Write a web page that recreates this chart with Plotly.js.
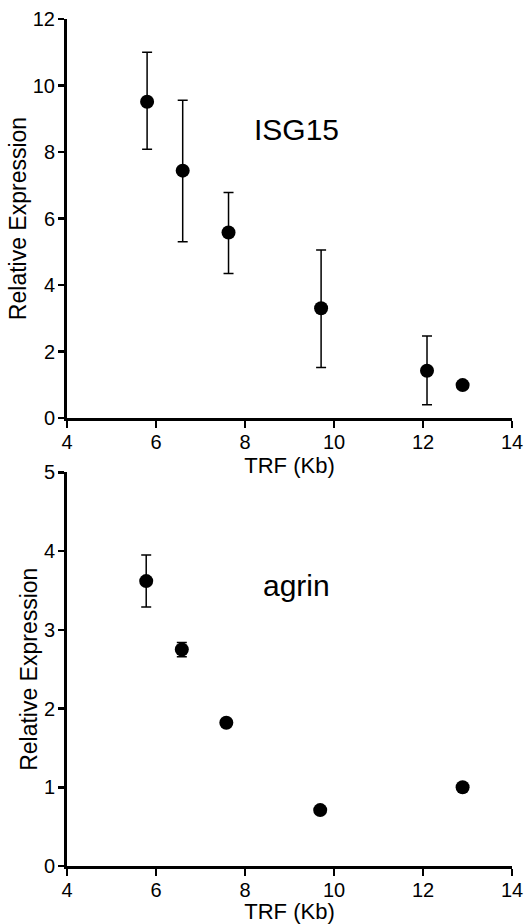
<!DOCTYPE html>
<html>
<head>
<meta charset="utf-8">
<script src="https://cdn.plot.ly/plotly-3.0.1.min.js"></script>
<style>html,body{margin:0;padding:0;background:#fff;}#chart{width:524px;height:924px;}</style>
</head>
<body>
<div id="chart"></div>
<script>
// ISG15 panel
const isgTRF = [5.8, 6.6, 7.63, 9.71, 12.09, 12.89];
const isgExpr = [9.51, 7.44, 5.58, 3.30, 1.42, 0.99];
const isgErrPlus = [1.49, 2.12, 1.20, 1.75, 1.05, 0];
const isgErrMinus = [1.43, 2.14, 1.23, 1.78, 1.02, 0];
// agrin panel
const agrTRF = [5.78, 6.58, 7.58, 9.69, 12.89];
const agrExpr = [3.62, 2.75, 1.82, 0.71, 1.00];
const agrErrPlus = [0.33, 0.09, 0.04, 0, 0];
const agrErrMinus = [0.33, 0.09, 0.04, 0, 0];
const xTicks = [4, 6, 8, 10, 12, 14];
const isgTicks = [0, 2, 4, 6, 8, 10, 12];
const agrTicks = [0, 1, 2, 3, 4, 5];
const panelLabels = ["ISG15", "agrin"];

const FONT = "Arial, 'Liberation Sans', sans-serif";
const markerStyle = {color: "#000", size: 14};
const errStyle = {color: "#000", thickness: 1.5, width: 5};

const traces = [
  {x: isgTRF, y: isgExpr, type: "scatter", mode: "markers", marker: markerStyle,
   error_y: Object.assign({type: "data", symmetric: false, array: isgErrPlus, arrayminus: isgErrMinus}, errStyle),
   xaxis: "x", yaxis: "y", cliponaxis: false},
  {x: agrTRF, y: agrExpr, type: "scatter", mode: "markers", marker: markerStyle,
   error_y: Object.assign({type: "data", symmetric: false, array: agrErrPlus, arrayminus: agrErrMinus}, errStyle),
   xaxis: "x2", yaxis: "y2", cliponaxis: false}
];

function xax(anchor) {
  return {
    range: [4, 14], tickvals: xTicks, ticktext: xTicks.map(String),
    showline: true, linewidth: 3, linecolor: "#000", mirror: false,
    ticks: "outside", ticklen: 7, tickwidth: 2.5, tickcolor: "#000",
    ticklabelstandoff: -3,
    showgrid: false, zeroline: false, anchor: anchor,
    tickfont: {family: FONT, size: 20, color: "#000"},
    title: {text: "TRF (Kb)", font: {family: FONT, size: 22, color: "#000"}, standoff: 0},
    domain: [0, 1]
  };
}
function yax(anchor, range, ticks, domain) {
  return {
    range: range, tickvals: ticks, ticktext: ticks.map(String),
    showline: true, linewidth: 3, linecolor: "#000",
    ticks: "outside", ticklen: 6, tickwidth: 2.5, tickcolor: "#000",
    ticklabelstandoff: -1,
    showgrid: false, zeroline: false, anchor: anchor,
    tickfont: {family: FONT, size: 20, color: "#000"},
    title: {text: "Relative Expression", font: {family: FONT, size: 23, color: "#000"}, standoff: 0},
    domain: domain
  };
}

const layout = {
  width: 524, height: 924,
  margin: {l: 67, r: 12, t: 19, b: 58},
  paper_bgcolor: "#fff", plot_bgcolor: "#fff",
  showlegend: false,
  font: {family: FONT, color: "#000"},
  xaxis: xax("y"),
  yaxis: yax("x", [0, 12], isgTicks, [0.5289, 1]),
  xaxis2: xax("y2"),
  yaxis2: yax("x2", [0, 5], agrTicks, [0, 0.4646]),
  annotations: [
    {text: panelLabels[0], x: 9.15, y: 8.68, xref: "x", yref: "y", showarrow: false,
     font: {family: FONT, size: 30, color: "#000"}, xanchor: "center", yanchor: "middle"},
    {text: panelLabels[1], x: 9.15, y: 3.57, xref: "x2", yref: "y2", showarrow: false,
     font: {family: FONT, size: 30, color: "#000"}, xanchor: "center", yanchor: "middle"}
  ]
};

Plotly.newPlot("chart", traces, layout, {displayModeBar: false, staticPlot: true});
</script>
</body>
</html>
